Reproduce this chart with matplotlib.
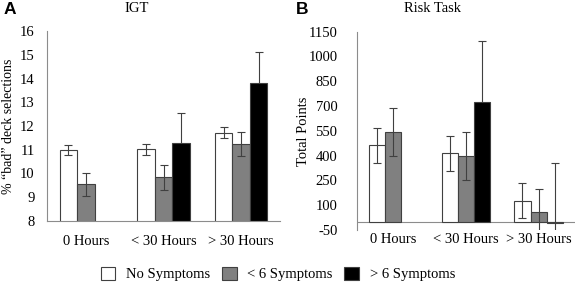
import numpy as np
import matplotlib.pyplot as plt
from matplotlib.patches import Patch

plt.rcParams['font.family'] = 'Liberation Serif'
plt.rcParams['axes.unicode_minus'] = False

# data
hours = ['0 Hours', '< 30 Hours', '> 30 Hours']
groups = ['No Symptoms', '< 6 Symptoms', '> 6 Symptoms']
igt_mean = [[11.0, 11.02, 11.72], [9.54, 9.84, 11.24], [np.nan, 11.28, 13.82]]
igt_err = [[0.2, 0.22, 0.24], [0.5, 0.52, 0.52], [np.nan, 1.27, 1.28]]
risk_mean = [[464, 413, 128], [542, 397, 59], [np.nan, 726, -8]]
risk_err = [[106, 104, 104], [144, 144, 142], [np.nan, 368, 364]]

igt_ticks = np.arange(8, 17, 1)
risk_ticks = np.arange(-50, 1151, 150)

fills = ['white', '#808080', 'black']
edge = '#404040'
axcol = '#8c8c8c'
fs = 10.5

fig = plt.figure(figsize=(5.77, 2.88), dpi=100)
axA = fig.add_axes([47/577, 1-221/288, 233/577, 190/288])
axB = fig.add_axes([357/577, 1-230/288, 218/577, 198.3/288])

x = np.arange(len(hours))
w = 0.224

def draw(ax, means, errs):
    for i in range(3):
        xs = x + (i - 1) * w
        ax.bar(xs, means[i], w, color=fills[i], edgecolor=edge, linewidth=0.8, zorder=2)
        # black bars hide the lower half of their error bar
        z = 1.5 if i == 2 else 3
        ax.errorbar(xs, means[i], yerr=errs[i], fmt='none', ecolor=edge,
                    elinewidth=0.8, capsize=3, capthick=0.8, zorder=z)
    ax.set_xlim(-0.5, 2.5)
    ax.set_xticks(x)
    ax.set_xticklabels(hours)
    ax.tick_params(length=0, labelsize=fs)
    for s in ['top', 'right']:
        ax.spines[s].set_visible(False)
    ax.spines['left'].set_color(axcol)
    ax.spines['bottom'].set_color(axcol)

draw(axA, igt_mean, igt_err)
axA.set_ylim(8, 16)
axA.set_yticks(igt_ticks)
axA.tick_params(axis='y', pad=9)
axA.tick_params(axis='x', pad=10)
axA.set_ylabel('% \u201cbad\u201d deck selections', fontsize=10)
axA.yaxis.set_label_coords(-32/233, 0.5)

draw(axB, risk_mean, risk_err)
axB.set_ylim(-50, 1150)
axB.set_yticks(risk_ticks)
axB.spines['bottom'].set_visible(False)
axB.axhline(0, color=axcol, linewidth=0.8, zorder=1)
axB.tick_params(axis='y', pad=14)
axB.tick_params(axis='x', pad=2)
axB.set_ylabel('Total Points', fontsize=fs)
axB.yaxis.set_label_coords(-47/218, 0.5)

fig.text(137/577, 1-8/288, 'IGT', ha='center', va='center', fontsize=fs)
fig.text(433/577, 1-8/288, 'Risk Task', ha='center', va='center', fontsize=fs)
fig.text(4/577, 1-9/288, 'A', ha='left', va='center', fontsize=12.5,
         fontweight='bold', family='Liberation Sans')
fig.text(296/577, 1-9/288, 'B', ha='left', va='center', fontsize=12.5,
         fontweight='bold', family='Liberation Sans')

handles = [Patch(facecolor=c, edgecolor=edge, linewidth=0.8) for c in fills]
fig.legend(handles, groups, loc='center', bbox_to_anchor=(278/577, 1-274/288),
           ncol=3, frameon=False, fontsize=fs, handlelength=1.0, handleheight=1.0,
           handletextpad=0.75, columnspacing=0.8)

fig.savefig('out.png', dpi=100)
